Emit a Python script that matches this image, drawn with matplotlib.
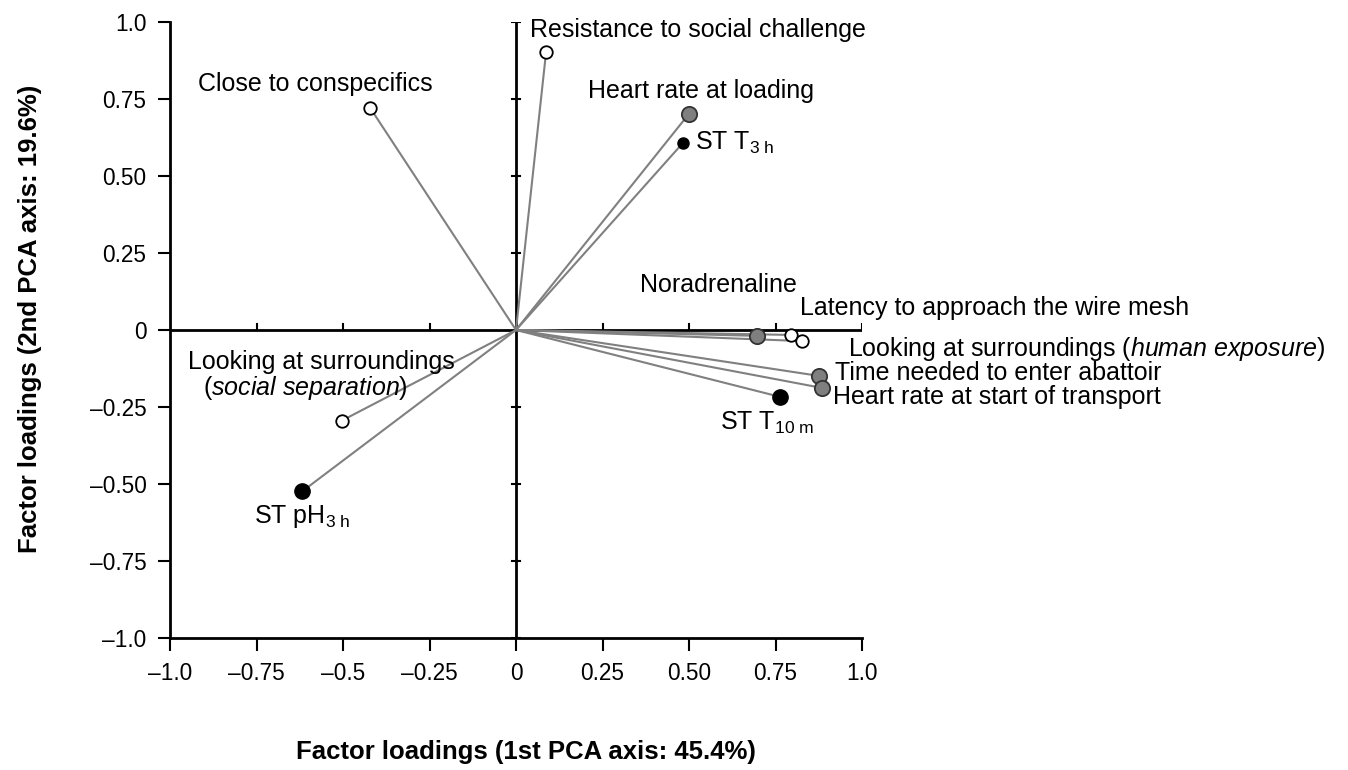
import matplotlib.pyplot as plt
import numpy as np

plt.rcParams['font.family'] = ['Liberation Sans', 'DejaVu Sans']
plt.rcParams['mathtext.fontset'] = 'custom'
plt.rcParams['mathtext.rm'] = 'Liberation Sans'
plt.rcParams['mathtext.it'] = 'Liberation Sans:italic'

# loadings on PCA axis 1 and 2
names = ['Resistance to social challenge', 'Close to conspecifics', 'Heart rate at loading',
         r'ST T$_{\mathregular{3\ h}}$', 'Noradrenaline', 'Latency to approach the wire mesh',
         r'Looking at surroundings ($\mathit{human\ exposure}$)', 'Time needed to enter abattoir',
         'Heart rate at start of transport', r'ST T$_{\mathregular{10\ m}}$',
         'Looking at surroundings', r'ST pH$_{\mathregular{3\ h}}$']
pc1 = [0.087, -0.422, 0.500, 0.483, 0.697, 0.795, 0.827, 0.876, 0.884, 0.763, -0.503, -0.618]
pc2 = [0.903, 0.722, 0.702, 0.608, -0.019, -0.016, -0.036, -0.149, -0.188, -0.217, -0.294, -0.524]
kind = ['open', 'open', 'gray', 'black_s', 'gray', 'open', 'open', 'gray', 'gray', 'black', 'open', 'black']

# label anchor (left edge, vertical centre) in data units
lab_x = [0.040, -0.919, 0.208, 0.517, 0.358, 0.821, 0.960, 0.922, 0.916, 0.590, -0.948, -0.757]
lab_y = [0.974, 0.799, 0.777, 0.608, 0.146, 0.071, -0.062, -0.139, -0.217, -0.301, -0.104, -0.605]

ticks = [-1.0, -0.75, -0.5, -0.25, 0, 0.25, 0.5, 0.75, 1.0]
xtl = ['\u20131.0', '\u20130.75', '\u20130.5', '\u20130.25', '0', '0.25', '0.50', '0.75', '1.0']
ytl = ['\u20131.0', '\u20130.75', '\u20130.50', '\u20130.25', '0', '0.25', '0.50', '0.75', '1.0']

styles = {'open': dict(ms=9, mfc='white', mec='black', mew=1.3),
          'gray': dict(ms=11, mfc='#7f7f7f', mec='#333333', mew=1.3),
          'black': dict(ms=11, mfc='black', mec='black', mew=1),
          'black_s': dict(ms=8, mfc='black', mec='black', mew=1)}

fig = plt.figure(figsize=(13.48, 7.7), dpi=100)
ax = fig.add_axes([170/1348, 1-638/770, 692/1348, 616/770])
ax.set_xlim(-1, 1)
ax.set_ylim(-1, 1)

# centre axes
ax.plot([-1, 1], [0, 0], color='black', lw=2, zorder=1)
ax.plot([0, 0], [-1, 1], color='black', lw=2, zorder=1)
for t in ticks:
    if t != 0:
        ax.plot([t, t], [0, 0.02], color='black', lw=1.5, zorder=1)
        ax.plot([-0.012, 0.012], [t, t], color='black', lw=1.5, zorder=1)

for i in range(len(names)):
    ax.plot([0, pc1[i]], [0, pc2[i]], color='#808080', lw=1.5, zorder=2)
    ax.plot(pc1[i], pc2[i], 'o', zorder=3, **styles[kind[i]])
    ax.text(lab_x[i], lab_y[i], names[i], fontsize=18, ha='left', va='center')
ax.text(-0.905, -0.188, '($\\mathit{social\\ separation}$)', fontsize=18, ha='left', va='center')

for s in ['top', 'right']:
    ax.spines[s].set_visible(False)
for s in ['left', 'bottom']:
    ax.spines[s].set_linewidth(2)
ax.set_xticks(ticks)
ax.set_xticklabels(xtl)
ax.set_yticks(ticks)
ax.set_yticklabels(ytl)
ax.tick_params(axis='both', labelsize=16.3, width=1.5, length=9, pad=8)

fig.text(526/1348, 1-752/770, 'Factor loadings (1st PCA axis: 45.4%)', fontsize=18.5,
         fontweight='bold', ha='center', va='center')
fig.text(30/1348, 1-319/770, 'Factor loadings (2nd PCA axis: 19.6%)', fontsize=18.5,
         fontweight='bold', ha='center', va='center', rotation=90)

plt.savefig('out.png', dpi=100)
